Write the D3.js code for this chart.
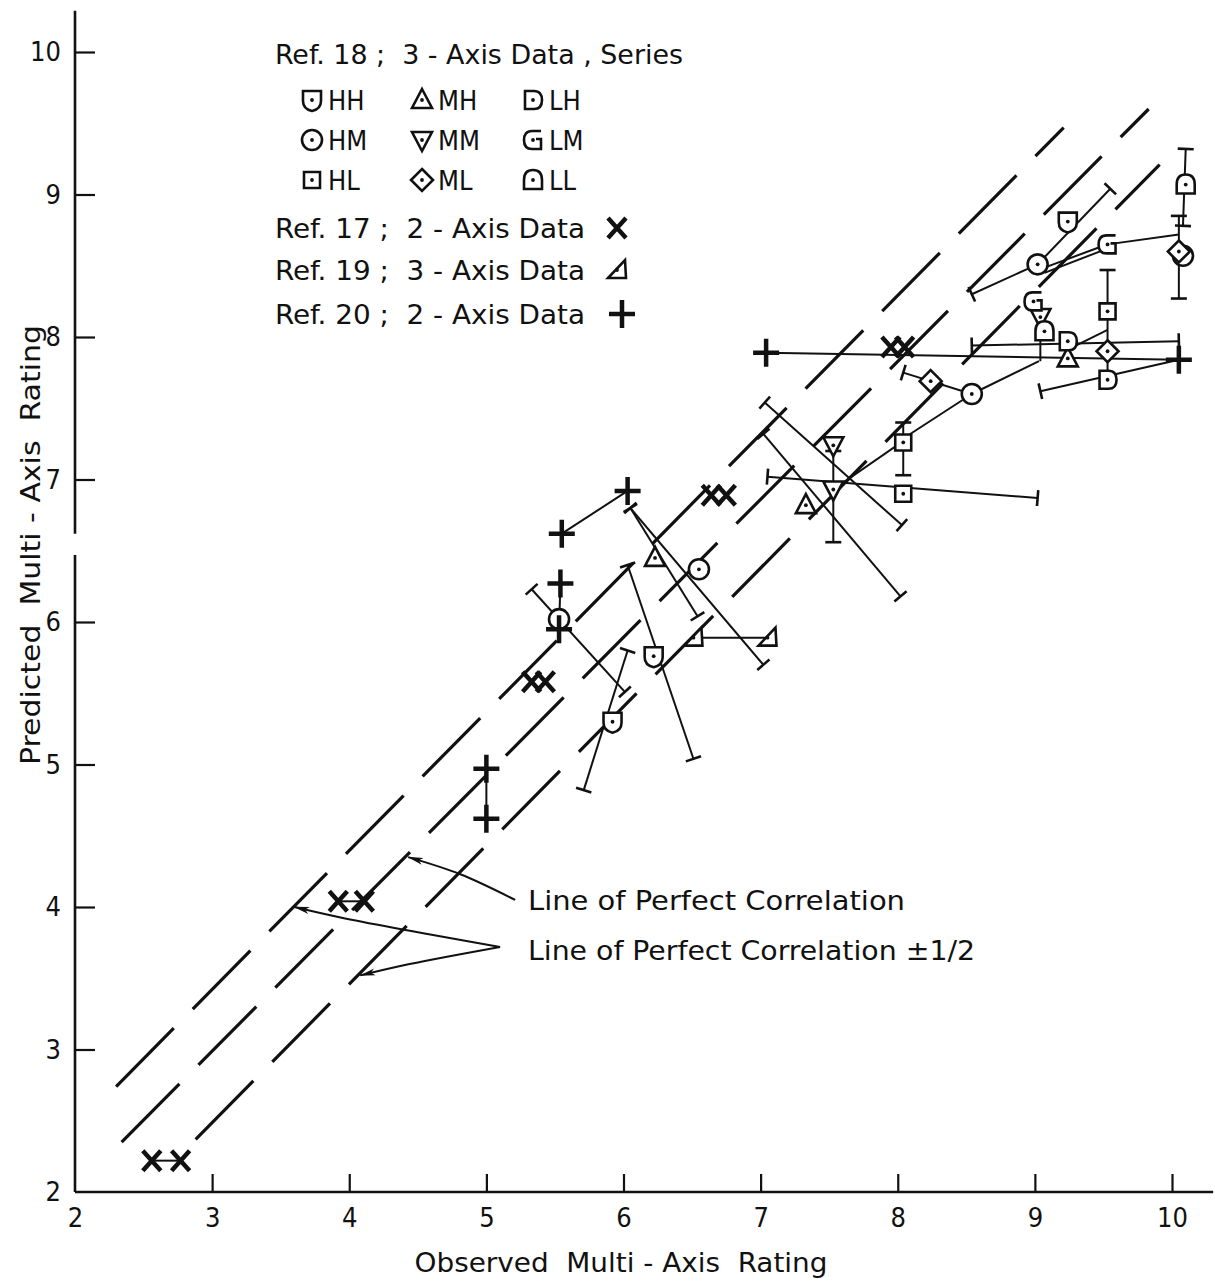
<!DOCTYPE html>
<html>
<head>
<meta charset="utf-8">
<script src="https://cdn.jsdelivr.net/npm/d3@7"></script>
<style>
  body { margin: 0; background: #fff; }
  text { font-family: "Liberation Sans Narrow", "DejaVu Sans Condensed", "Liberation Sans", sans-serif; fill: #111; white-space: pre; }
</style>
</head>
<body>
<svg id="chart" width="1215" height="1288"></svg>
<script>
// axis ticks
const xTicks = [2, 3, 4, 5, 6, 7, 8, 9, 10];
const yTicks = [2, 3, 4, 5, 6, 7, 8, 9, 10];

// Ref. 18 ; 3-axis data, series  [observed, predicted]
const HH = [[5.92, 5.30], [6.22, 5.76], [9.24, 8.81]];
const HM = [[5.53, 6.02], [6.55, 6.37], [8.54, 7.60], [9.02, 8.51], [10.08, 8.57]];
const HL = [[8.04, 7.26], [8.04, 6.90], [9.53, 8.18]];
const MH = [[6.23, 6.45], [7.33, 6.82], [9.24, 7.85]];
const MM = [[7.53, 7.24], [7.53, 6.93], [9.04, 8.14]];
const ML = [[8.24, 7.69], [9.53, 7.90], [10.05, 8.60]];
const LH = [[9.24, 7.97], [9.53, 7.70]];
const LM = [[9.53, 8.65], [8.99, 8.25]];
const LL = [[10.10, 9.07], [9.07, 8.04]];
// Ref. 17 ; 2-axis data
const ref17 = [[2.56, 2.22], [2.77, 2.22], [3.92, 4.04], [4.11, 4.04], [5.33, 5.58], [5.43, 5.58],
               [6.64, 6.89], [6.75, 6.89], [7.95, 7.93], [8.05, 7.93]];
// Ref. 19 ; 3-axis data
const ref19 = [[6.51, 5.89], [7.05, 5.89]];
// Ref. 20 ; 2-axis data
const ref20 = [[5.0, 4.97], [5.0, 4.62], [5.55, 6.62], [6.03, 6.92], [5.54, 6.27], [5.53, 5.95],
               [7.04, 7.89], [10.05, 7.84]];

// ranges with end caps at both ends [x1, y1, x2, y2]
const ranges = [
  [5.71, 4.82, 6.03, 5.80], [6.03, 6.40, 6.51, 5.04], [5.33, 6.23, 6.01, 5.51],
  [6.05, 6.80, 7.02, 5.70], [6.05, 6.80, 6.54, 6.04], [7.03, 7.54, 8.03, 6.68],
  [7.53, 7.20, 7.53, 6.56], [7.02, 7.32, 8.02, 6.18], [7.05, 7.02, 9.02, 6.87],
  [8.04, 7.40, 8.04, 7.03], [8.54, 7.94, 10.05, 7.97], [10.10, 9.32, 10.08, 8.78],
  [10.05, 8.85, 10.05, 8.27]
];
// ranges capped at the first end only
const halfRanges = [
  [8.04, 7.75, 8.54, 7.60], [9.04, 7.62, 10.05, 7.84], [9.53, 8.47, 9.53, 7.70],
  [8.54, 8.30, 9.02, 8.51], [9.55, 9.04, 9.02, 8.51]
];
// plain connecting lines
const links = [
  [2.56, 2.22, 2.77, 2.22], [3.92, 4.04, 4.11, 4.04],
  [5.55, 6.62, 6.03, 6.92], [5.54, 6.27, 5.53, 5.95], [5.0, 4.97, 5.0, 4.62], [7.04, 7.89, 10.05, 7.84],
  [6.51, 5.89, 7.05, 5.89],
  [8.54, 7.60, 8.06, 7.30], [7.53, 6.93, 8.01, 7.25], [8.54, 7.60, 9.03, 7.83], [9.28, 7.93, 9.53, 8.05],
  [9.04, 8.25, 9.04, 7.83], [9.05, 8.48, 9.50, 8.64], [9.07, 8.45, 9.50, 8.61], [9.53, 8.65, 10.05, 8.72]
];

// dashed reference lines, drawn end points [x1, y1, x2, y2]
const refLines = [
  [2.30, 2.74, 9.21, 9.47],   // +1/2
  [2.34, 2.35, 9.83, 9.60],   // perfect correlation
  [2.88, 2.37, 9.91, 9.21]    // -1/2
];

// annotation arrows (data units)
const arrowPerfect = [[5.21, 4.05], [4.81, 4.23], [4.43, 4.35]];
const arrowUpper = [[5.10, 3.72], [3.97, 3.92], [3.60, 4.00]];
const arrowLower = [[5.10, 3.72], [4.44, 3.60], [4.08, 3.52]];

const svg = d3.select("#chart");
const x = d3.scaleLinear().domain([2, 10]).range([75, 1172]);
const y = d3.scaleLinear().domain([2, 10]).range([1192, 52]);

const defs = svg.append("defs");
defs.append("marker")
  .attr("id", "arrow")
  .attr("viewBox", "0 0 16 10")
  .attr("refX", 15).attr("refY", 5)
  .attr("markerWidth", 16).attr("markerHeight", 10)
  .attr("markerUnits", "userSpaceOnUse")
  .attr("orient", "auto")
  .append("path").attr("d", "M0,1.5 L16,5 L0,8.5 L4,5 Z").attr("fill", "#111");

// axes
const gy = svg.append("g").attr("transform", `translate(${x(2)},0)`)
  .call(d3.axisLeft(y).tickValues(yTicks).tickFormat(d3.format("d")).tickSizeInner(-20).tickSizeOuter(0).tickPadding(14));
const gx = svg.append("g").attr("transform", `translate(0,${y(2)})`)
  .call(d3.axisBottom(x).tickValues(xTicks).tickFormat(d3.format("d")).tickSizeInner(-18).tickSizeOuter(0).tickPadding(16));
[gx, gy].forEach(g => {
  g.select(".domain").remove();
  g.selectAll(".tick line").attr("stroke", "#111").attr("stroke-width", 2.2);
  g.selectAll(".tick text").attr("font-size", 27).attr("fill", "#111");
});
gy.selectAll(".tick").filter(d => d === 2).select("line").remove();
gx.selectAll(".tick").filter(d => d === 2).select("line").remove();

const axisStroke = g => g.attr("stroke", "#111").attr("stroke-width", 2.6).attr("fill", "none");
svg.append("line").attr("x1", x(2)).attr("x2", x(2)).attr("y1", y(2)).attr("y2", y(6.47)).call(axisStroke);
svg.append("line").attr("x1", x(2)).attr("x2", x(2)).attr("y1", y(6.62)).attr("y2", y(10.29)).call(axisStroke);
svg.append("line").attr("x1", x(2)).attr("x2", x(10.3)).attr("y1", y(2)).attr("y2", y(2)).call(axisStroke);

// axis titles
svg.append("text").attr("x", 621).attr("y", 1272).attr("text-anchor", "middle")
  .attr("font-size", 27).attr("textLength", 413).attr("lengthAdjust", "spacingAndGlyphs")
  .text("Observed  Multi - Axis  Rating");
svg.append("text").attr("transform", "translate(40,545) rotate(-90)").attr("text-anchor", "middle")
  .attr("font-size", 27).attr("textLength", 440).attr("lengthAdjust", "spacingAndGlyphs")
  .text("Predicted  Multi - Axis  Rating");

// dashed lines
svg.append("g").selectAll("line").data(refLines).join("line")
  .attr("x1", d => x(d[0])).attr("y1", d => y(d[1]))
  .attr("x2", d => x(d[2])).attr("y2", d => y(d[3]))
  .attr("stroke", "#111").attr("stroke-width", 3.2).attr("stroke-dasharray", "82 27");

// lines and ranges
const lineG = svg.append("g").attr("stroke", "#111").attr("stroke-width", 2).attr("fill", "none");
lineG.selectAll("line.link").data(links).join("line").attr("class", "link")
  .attr("x1", d => x(d[0])).attr("y1", d => y(d[1]))
  .attr("x2", d => x(d[2])).attr("y2", d => y(d[3]));
lineG.selectAll("line.range").data(ranges.concat(halfRanges)).join("line").attr("class", "range")
  .attr("x1", d => x(d[0])).attr("y1", d => y(d[1]))
  .attr("x2", d => x(d[2])).attr("y2", d => y(d[3]));

function capPath(px, py, qx, qy) {
  const dx = qx - px, dy = qy - py, len = Math.hypot(dx, dy) || 1;
  const nx = -dy / len * 8, ny = dx / len * 8;
  return `M${px + nx},${py + ny}L${px - nx},${py - ny}`;
}
const caps = [];
ranges.forEach(d => {
  caps.push(capPath(x(d[0]), y(d[1]), x(d[2]), y(d[3])));
  caps.push(capPath(x(d[2]), y(d[3]), x(d[0]), y(d[1])));
});
halfRanges.forEach(d => caps.push(capPath(x(d[0]), y(d[1]), x(d[2]), y(d[3]))));
lineG.selectAll("path.cap").data(caps).join("path").attr("class", "cap").attr("d", d => d).attr("stroke-width", 2.6);

// annotation arrows
const curve = d3.line().curve(d3.curveCatmullRom).x(d => x(d[0])).y(d => y(d[1]));
[arrowPerfect, arrowUpper, arrowLower].forEach(pts => {
  svg.append("path").attr("d", curve(pts)).attr("fill", "none").attr("stroke", "#111")
    .attr("stroke-width", 2).attr("marker-end", "url(#arrow)");
});
svg.append("text").attr("x", 528).attr("y", 910).attr("font-size", 27)
  .attr("textLength", 377).attr("lengthAdjust", "spacingAndGlyphs").text("Line of Perfect Correlation");
svg.append("text").attr("x", 528).attr("y", 960).attr("font-size", 27)
  .attr("textLength", 447).attr("lengthAdjust", "spacingAndGlyphs").text("Line of Perfect Correlation ±1/2");

// symbols
const shapes = {
  HH: "M-9,-9H9V1Q9,9 0,11Q-9,9 -9,1Z",
  HM: "M10,0A10,10 0 1,1 -10,0A10,10 0 1,1 10,0Z",
  HL: "M-8,-8H8V8H-8Z",
  MH: "M0,-11L10,8H-10Z",
  MM: "M-10,-8H10L0,11Z",
  ML: "M0,-11L11,0L0,11L-11,0Z",
  LH: "M-8,-9H1Q9,-9 9,0Q9,9 1,9H-8Z",
  LM: "M8,-9H-1Q-9,-9 -9,0Q-9,9 -1,9H8V-1H3",
  LL: "M-9,9V0Q-9,-10 0,-10Q9,-10 9,0V9Z",
  R19: "M-9,8H9L8,-10Z"
};
function drawSymbol(g, type, px, py) {
  const s = g.append("g").attr("transform", `translate(${px},${py})`);
  if (type === "X") {
    s.append("path").attr("d", "M-9,-10L9,10M9,-10L-9,10").attr("stroke", "#111").attr("stroke-width", 4.5).attr("fill", "none");
  } else if (type === "P") {
    s.append("path").attr("d", "M-13,0H13M0,-14V14").attr("stroke", "#111").attr("stroke-width", 4.5).attr("fill", "none");
  } else {
    s.append("path").attr("d", shapes[type]).attr("fill", "#fff").attr("stroke", "#111").attr("stroke-width", 2.6);
    s.append("circle").attr("r", 1.9).attr("fill", "#111");
  }
}
const symG = svg.append("g");
const seriesList = [["HH", HH], ["HM", HM], ["HL", HL], ["MH", MH], ["MM", MM], ["ML", ML],
                    ["LH", LH], ["LM", LM], ["LL", LL], ["R19", ref19], ["X", ref17], ["P", ref20]];
seriesList.forEach(([type, pts]) => pts.forEach(p => drawSymbol(symG, type, x(p[0]), y(p[1]))));

// legend
const leg = svg.append("g");
const legText = (tx, ty, str, len) => {
  const t = leg.append("text").attr("x", tx).attr("y", ty).attr("font-size", 27).text(str);
  if (len) t.attr("textLength", len).attr("lengthAdjust", "spacingAndGlyphs");
};
legText(275, 64, "Ref. 18 ;  3 - Axis Data , Series", 408);
const legendRows = [["HH", "MH", "LH"], ["HM", "MM", "LM"], ["HL", "ML", "LL"]];
const colX = [312, 422, 533];
legendRows.forEach((row, i) => row.forEach((name, j) => {
  const cy = 100 + i * 40;
  drawSymbol(leg, name, colX[j], cy);
  legText(colX[j] + 16, cy + 10, name);
}));
legText(275, 238, "Ref. 17 ;  2 - Axis Data", 310);
drawSymbol(leg, "X", 617, 228);
legText(275, 280, "Ref. 19 ;  3 - Axis Data", 310);
drawSymbol(leg, "R19", 617, 270);
legText(275, 324, "Ref. 20 ;  2 - Axis Data", 310);
drawSymbol(leg, "P", 622, 314);
</script>
</body>
</html>
